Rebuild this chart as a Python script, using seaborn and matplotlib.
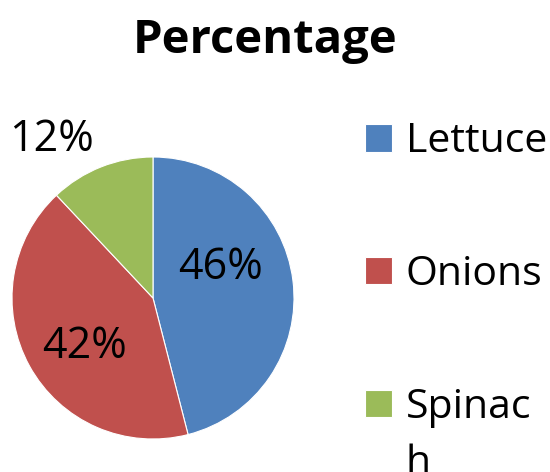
import matplotlib
matplotlib.use("Agg")
import matplotlib.pyplot as plt
import seaborn as sns

sns.set_style("white")
plt.rcParams['font.family'] = ['Open Sans', 'DejaVu Sans']
plt.rcParams['text.color'] = 'black'

categories = ["Lettuce", "Onions", "Spinach"]
percent = [46, 42, 12]
colors = ["#4F81BD", "#C0504D", "#9BBB59"]

fig = plt.figure(figsize=(5.5, 4.72), dpi=100)
ax = fig.add_axes([12 / 550, 33 / 472, 282 / 550, 282 / 472])

wedges, texts, autotexts = ax.pie(
    percent, colors=colors, startangle=90, counterclock=False,
    autopct="%d%%", pctdistance=0.55,
    wedgeprops=dict(edgecolor="white", linewidth=0.8),
    textprops=dict(fontsize=31, color="black"))
ax.set_aspect("equal")
ax.set_xlim(-1, 1)
ax.set_ylim(-1, 1)

# Excel-like "best fit" label placement
label_pos = [(0.482, 0.213), (-0.489, -0.348), (-0.723, 1.121)]
for t, p in zip(autotexts, label_pos):
    t.set_position(p)
    t.set_clip_on(False)

fig.text(0.482, 0.915, "Percentage", ha="center", va="center",
         fontsize=34, fontweight="bold", color="black")

# legend text wraps like in the original ("Spinac" / "h")
leg = fig.legend(wedges, ["Lettuce", "Onions", "Spinac"], loc="upper left",
                 bbox_to_anchor=(365 / 550, 1 - 122 / 472), frameon=False,
                 borderpad=0, borderaxespad=0,
                 fontsize=29.5, handlelength=0.65, handleheight=0.65,
                 handletextpad=0.35, labelspacing=2.25)
for t in leg.get_texts():
    t.set_color("black")

fig.canvas.draw()
inv = fig.transFigure.inverted()
bb = leg.get_texts()[2].get_window_extent()
x0, y1 = inv.transform((bb.x0, bb.y1 - 56))
fig.text(x0, y1, "h", ha="left", va="top", fontsize=29.5, color="black")

fig.savefig("out.png", dpi=100)
